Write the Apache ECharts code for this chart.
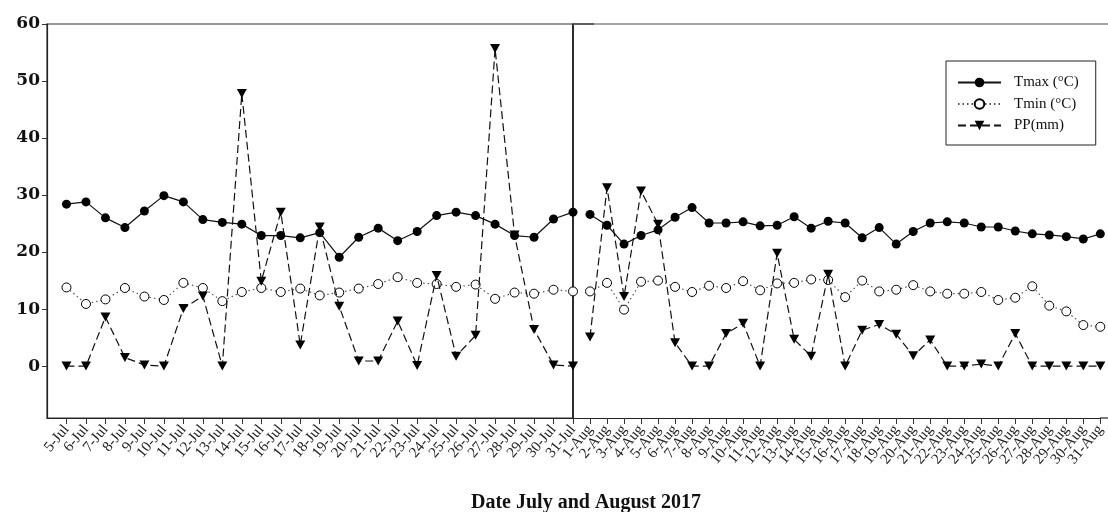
<!DOCTYPE html>
<html><head><meta charset="utf-8">
<script src="https://cdn.jsdelivr.net/npm/echarts@6/dist/echarts.min.js"></script>
<style>html,body{margin:0;padding:0;background:#fff}#c{width:1108px;height:512px}</style>
</head><body><div id="c"></div>
<script>
const julDates = ['5-Jul','6-Jul','7-Jul','8-Jul','9-Jul','10-Jul','11-Jul','12-Jul','13-Jul','14-Jul','15-Jul','16-Jul','17-Jul','18-Jul','19-Jul','20-Jul','21-Jul','22-Jul','23-Jul','24-Jul','25-Jul','26-Jul','27-Jul','28-Jul','29-Jul','30-Jul','31-Jul'];
const augDates = ['1-Aug','2-Aug','3-Aug','4-Aug','5-Aug','6-Aug','7-Aug','8-Aug','9-Aug','10-Aug','11-Aug','12-Aug','13-Aug','14-Aug','15-Aug','16-Aug','17-Aug','18-Aug','19-Aug','20-Aug','21-Aug','22-Aug','23-Aug','24-Aug','25-Aug','26-Aug','27-Aug','28-Aug','29-Aug','30-Aug','31-Aug'];
const julTmax = [28.4,28.8,26.0,24.3,27.2,29.9,28.8,25.7,25.2,24.9,22.9,22.9,22.5,23.4,19.1,22.6,24.2,22.0,23.6,26.4,27.0,26.4,24.9,22.9,22.6,25.8,27.0];
const julTmin = [13.8,10.9,11.7,13.7,12.2,11.6,14.6,13.7,11.4,13.0,13.7,13.0,13.6,12.4,12.9,13.6,14.4,15.6,14.6,14.4,13.9,14.3,11.8,12.9,12.7,13.4,13.1];
const julPP = [0,0,8.6,1.5,0.2,0,10.1,12.3,0,47.8,14.9,27.0,3.7,24.4,10.5,0.9,0.9,7.9,0.1,15.9,1.75,5.4,55.7,23.0,6.4,0.2,0];
const augTmax = [26.6,24.7,21.4,22.9,23.9,26.1,27.8,25.1,25.1,25.3,24.6,24.7,26.2,24.2,25.4,25.1,22.5,24.3,21.4,23.6,25.1,25.3,25.1,24.4,24.4,23.7,23.2,23.0,22.7,22.3,23.2];
const augTmin = [13.1,14.6,9.9,14.8,15.0,13.9,13.0,14.1,13.7,14.9,13.3,14.5,14.6,15.2,15.1,12.1,15.0,13.1,13.4,14.2,13.1,12.7,12.7,13.0,11.6,12.0,14.0,10.6,9.6,7.2,6.9];
const augPP = [5.1,31.3,12.2,30.7,24.9,4.1,0,0,5.7,7.5,0,19.8,4.7,1.75,16.1,0,6.3,7.3,5.6,1.8,4.6,0,0,0.35,0,5.7,0,0,0,0,0];
const yTicks = [0,10,20,30,40,50,60];
const seriesNames = ['Tmax (°C)','Tmin (°C)','PP(mm)'];
const xTitle = 'Date July and August 2017';

// leading empty category = the gap between the axis start and the first day
const julCats = [''].concat(julDates);
const augCats = [''].concat(augDates);
const pair = arr => arr.map((v,i)=>[i+1,v]);

const styles = {
  'Tmax (°C)': {symbol:'circle', symbolSize:9, itemStyle:{color:'#000'}, lineStyle:{color:'#111', width:1.2, type:'solid'}},
  'Tmin (°C)': {symbol:'circle', symbolSize:9, itemStyle:{color:'#fff', borderColor:'#000', borderWidth:1}, lineStyle:{color:'#555', width:1.2, type:[1.5,3]}},
  'PP(mm)': {symbol:'path://M0,0L10,0L5,9Z', symbolSize:[10,9], itemStyle:{color:'#000'}, lineStyle:{color:'#111', width:1.2, type:[8,4]}}
};
function mk(name, arr, gi){
  const s = styles[name];
  return Object.assign({type:'line', name, data: pair(arr), xAxisIndex:gi, yAxisIndex:gi, showSymbol:true, animation:false, z: name==='PP(mm)'?3:2}, JSON.parse(JSON.stringify(s)));
}
const font = 'Liberation Serif';
function xAxis(gi, cats){
  return {gridIndex:gi, type:'category', data:cats, boundaryGap:false,
    axisLine:{show:true, onZero:false, lineStyle:{color:'#222', width:1.2}},
    axisTick:{show:true, interval:(i)=>i>0, length:6, lineStyle:{color:'#333'}},
    axisLabel:{interval:0, rotate:50, margin:9, fontFamily:font, fontSize:15, color:'#222'},
    splitLine:{show:false}};
}
const chart = echarts.init(document.getElementById('c'), null, {renderer:'canvas'});
chart.setOption({
  backgroundColor:'#fff',
  animation:false,
  grid:[
    {left:47, top:24, width:526, height:394, show:true, borderColor:'#333', borderWidth:1.2},
    {left:573, top:24, width:528, height:394}
  ],
  xAxis:[xAxis(0, julCats), xAxis(1, augCats)],
  yAxis:[
    {gridIndex:0, type:'value', min:-9.1, max:60,
      axisLine:{show:true, onZero:false, lineStyle:{color:'#222', width:1.2}},
      axisTick:{show:true, customValues:yTicks, length:5, lineStyle:{color:'#333'}},
      axisLabel:{customValues:yTicks, margin:7, fontFamily:'DejaVu Serif', fontWeight:'bold', fontSize:17, color:'#111'},
      splitLine:{show:false}},
    {gridIndex:1, type:'value', min:-9.1, max:60,
      axisLine:{show:true, onZero:false, lineStyle:{color:'#111', width:1.5}},
      axisTick:{show:false}, axisLabel:{show:false}, splitLine:{show:false}}
  ],
  legend:{data:seriesNames, orient:'vertical', left:946, top:61, padding:[14,17,12,11],
    itemWidth:43, itemHeight:12, itemGap:6.5, borderColor:'#222', borderWidth:1,
    textStyle:{fontFamily:font, fontSize:15, color:'#111', padding:[0,0,0,8]}},
  graphic:[
    {type:'line', shape:{x1:573, y1:24, x2:1108, y2:24}, style:{stroke:'#888', lineWidth:1.5}, z:10},
    {type:'line', shape:{x1:573, y1:24, x2:594, y2:24}, style:{stroke:'#333', lineWidth:1.2}, z:11},
    {type:'line', shape:{x1:1100, y1:418, x2:1108, y2:418}, style:{stroke:'#222', lineWidth:1.2}, z:10},
    {type:'text', x:586, y:503, style:{text:xTitle, fontFamily:font, fontWeight:'bold', fontSize:20, fill:'#111', textAlign:'center', textVerticalAlign:'middle'}}
  ],
  series:[
    mk('Tmax (°C)', julTmax, 0), mk('Tmin (°C)', julTmin, 0), mk('PP(mm)', julPP, 0),
    mk('Tmax (°C)', augTmax, 1), mk('Tmin (°C)', augTmin, 1), mk('PP(mm)', augPP, 1)
  ]
});
</script></body></html>
